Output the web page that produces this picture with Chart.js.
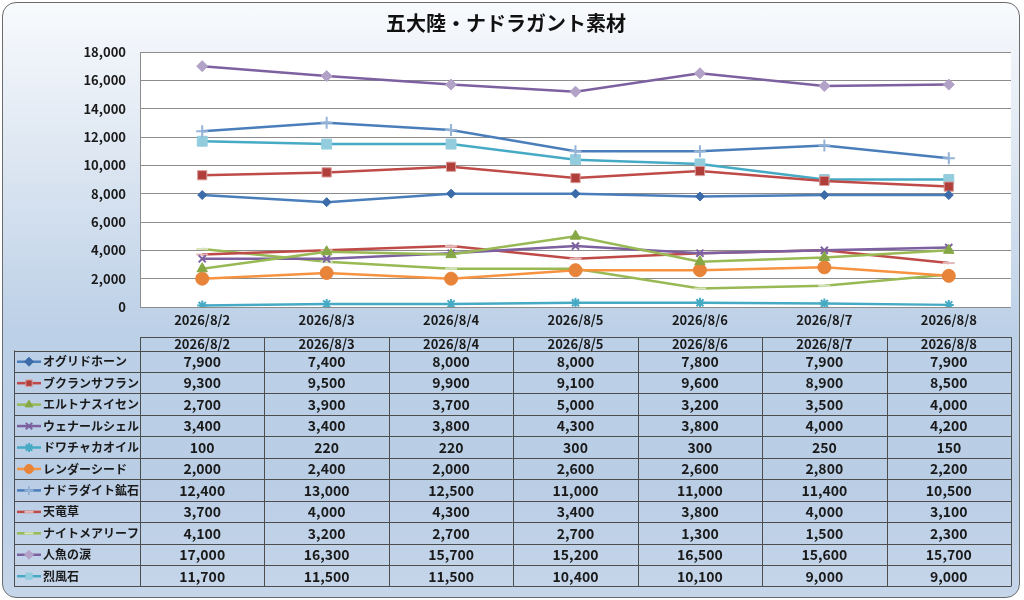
<!DOCTYPE html>
<html>
<head>
<meta charset="utf-8">
<script src="https://cdn.jsdelivr.net/npm/chart.js@4"></script>
<style>
  html, body { margin: 0; padding: 0; background: #ffffff; }
  #wrap {
    position: absolute; left: 2px; top: 2px; width: 1016px; height: 594px;
    border: 1.5px solid #6b6b6b; border-radius: 14px; overflow: hidden;
    background: linear-gradient(to bottom, #f8fafd 0%, #dbe5f1 28%, #bcd0e7 55%, #b9cde5 80%, #c6d6ea 100%);
  }
  #box { position: absolute; left: -2px; top: -2px; width: 1024px; height: 600px; }
</style>
</head>
<body>
<div id="wrap"><div id="box"><canvas id="chart"></canvas></div></div>
<script>
// data
const dates = ['2026/8/2', '2026/8/3', '2026/8/4', '2026/8/5', '2026/8/6', '2026/8/7', '2026/8/8'];
const oguridoHorn  = [7900, 7400, 8000, 8000, 7800, 7900, 7900];
const bukuranSaffron = [9300, 9500, 9900, 9100, 9600, 8900, 8500];
const eltonaSuisen = [2700, 3900, 3700, 5000, 3200, 3500, 4000];
const wenaarShell  = [3400, 3400, 3800, 4300, 3800, 4000, 4200];
const dwachakaOil  = [100, 220, 220, 300, 300, 250, 150];
const renderSeed   = [2000, 2400, 2000, 2600, 2600, 2800, 2200];
const nadoradite   = [12400, 13000, 12500, 11000, 11000, 11400, 10500];
const tenryuSou    = [3700, 4000, 4300, 3400, 3800, 4000, 3100];
const nightmareLeaf = [4100, 3200, 2700, 2700, 1300, 1500, 2300];
const ningyoNamida = [17000, 16300, 15700, 15200, 16500, 15600, 15700];
const reppuSeki    = [11700, 11500, 11500, 10400, 10100, 9000, 9000];

const FONT = "'Noto Sans CJK JP', 'Noto Sans', sans-serif";

function series(label, data, color, style, radius, fill, border) {
    return {
        label: label,
        data: data,
        borderColor: color,
        backgroundColor: color,
        borderWidth: 2.5,
        pointStyle: style,
        pointRadius: radius,
        pointBackgroundColor: fill,
        pointBorderColor: border || fill,
        pointBorderWidth: 1,
        tension: 0
    };
}

const datasets = [
    series('オグリドホーン', oguridoHorn, '#4a7ebb', 'rectRot', 4.5, '#3b6ba8'),
    series('ブクランサフラン', bukuranSaffron, '#be4b48', 'rect', 6.5, '#b03e3b', '#d99a98'),
    series('エルトナスイセン', eltonaSuisen, '#98b954', 'triangle', 6, '#86a745'),
    series('ウェナールシェル', wenaarShell, '#7d60a0', 'crossRot', 5, '#7d60a0'),
    series('ドワチャカオイル', dwachakaOil, '#46aac5', 'star', 5, '#46aac5'),
    series('レンダーシード', renderSeed, '#f69240', 'circle', 6.5, '#e8843a'),
    series('ナドラダイト鉱石', nadoradite, '#4a7ebb', 'cross', 6, '#95b3d7'),
    series('天竜草', tenryuSou, '#be4b48', 'line', 6, '#e6b9b8'),
    series('ナイトメアリーフ', nightmareLeaf, '#98b954', 'line', 6, '#d7e4bd'),
    series('人魚の涙', ningyoNamida, '#7d60a0', 'rectRot', 5.5, '#b3a2c7'),
    series('烈風石', reppuSeki, '#46aac5', 'rect', 7, '#93cddd')
];
// thicker marker strokes for the line-type markers
datasets.forEach(d => {
    if (['crossRot', 'star', 'cross', 'line'].includes(d.pointStyle)) d.pointBorderWidth = 2;
});

// white plot area behind the lines
const plotBg = {
    id: 'plotBg',
    beforeDraw(chart) {
        const a = chart.chartArea, ctx = chart.ctx;
        ctx.save();
        ctx.fillStyle = '#ffffff';
        ctx.fillRect(a.left, a.top, a.right - a.left, a.bottom - a.top);
        ctx.restore();
    }
};

// data table under the chart, columns follow the x scale
const dataTable = {
    id: 'dataTable',
    afterDraw(chart) {
        const ctx = chart.ctx, x = chart.scales.x;
        const step = x.getPixelForValue(1) - x.getPixelForValue(0);
        const left = x.getPixelForValue(0) - step / 2;
        const right = x.getPixelForValue(dates.length - 1) + step / 2;
        const legendLeft = 13;
        const headTop = 336, headH = 13.5, rowH = 21.45;
        const bodyTop = headTop + headH;
        const bottom = bodyTop + rowH * datasets.length;

        ctx.save();
        ctx.strokeStyle = '#4d4d4d';
        ctx.lineWidth = 1;
        ctx.beginPath();
        // header row
        ctx.moveTo(left, headTop + 0.5); ctx.lineTo(right, headTop + 0.5);
        // body rows
        for (let r = 0; r <= datasets.length; r++) {
            const y = Math.round(bodyTop + r * rowH) + 0.5;
            ctx.moveTo(legendLeft, y); ctx.lineTo(right, y);
        }
        ctx.moveTo(legendLeft + 0.5, bodyTop); ctx.lineTo(legendLeft + 0.5, bottom);
        for (let c = 0; c <= dates.length; c++) {
            const xx = Math.round(left + c * step) + 0.5;
            ctx.moveTo(xx, headTop); ctx.lineTo(xx, bottom);
        }
        ctx.stroke();

        ctx.fillStyle = '#1a1a1a';
        ctx.textAlign = 'center';
        ctx.textBaseline = 'middle';
        ctx.font = 'bold 13px ' + FONT;
        dates.forEach((d, i) => ctx.fillText(d, x.getPixelForValue(i), headTop + headH / 2 + 0.5));

        datasets.forEach((ds, r) => {
            const cy = bodyTop + r * rowH + rowH / 2 + 0.5;
            // legend key: line plus marker
            ctx.strokeStyle = ds.borderColor;
            ctx.lineWidth = 2.5;
            ctx.beginPath();
            ctx.moveTo(legendLeft + 3, cy); ctx.lineTo(legendLeft + 27, cy);
            ctx.stroke();
            ctx.fillStyle = ds.pointBackgroundColor;
            ctx.strokeStyle = ds.pointBorderColor;
            ctx.lineWidth = ds.pointBorderWidth;
            Chart.helpers.drawPoint(ctx, {
                pointStyle: ds.pointStyle,
                radius: Math.min(ds.pointRadius, 4.5),
                rotation: 0,
                borderWidth: ds.pointBorderWidth
            }, legendLeft + 15, cy);
            ctx.fillStyle = '#1a1a1a';
            ctx.textAlign = 'left';
            ctx.font = 'bold 12px ' + FONT;
            ctx.fillText(ds.label, legendLeft + 29, cy);
            ctx.textAlign = 'center';
            ctx.font = 'bold 14px ' + FONT;
            ds.data.forEach((v, i) => ctx.fillText(v.toLocaleString('en-US'), x.getPixelForValue(i), cy));
        });
        ctx.restore();
    }
};

new Chart(document.getElementById('chart').getContext('2d'), {
    type: 'line',
    data: { labels: dates, datasets: datasets },
    options: {
        responsive: true,
        maintainAspectRatio: false,
        animation: false,
        layout: { padding: { left: 0, right: 14, top: 0, bottom: 274 } },
        plugins: {
            legend: { display: false },
            tooltip: { enabled: false },
            title: {
                display: true,
                text: '五大陸・ナドラガント素材',
                color: '#111111',
                font: { family: FONT, size: 20, weight: 'bold', lineHeight: 1.2 },
                padding: { top: 10, bottom: 17 }
            }
        },
        scales: {
            x: {
                offset: true,
                afterFit(s) { s.height = 20; },
                grid: { display: false, drawTicks: false, offset: true },
                border: { display: false },
                ticks: { color: '#1a1a1a', padding: 5, maxRotation: 0, font: { family: FONT, size: 13, weight: 'bold' } }
            },
            y: {
                min: 0,
                max: 18000,
                afterFit(s) { s.width = 139; },
                grid: { color: '#8c8c8c', lineWidth: 1, drawTicks: false },
                border: { display: true, color: '#8c8c8c', width: 1 },
                ticks: {
                    stepSize: 2000,
                    padding: 14,
                    color: '#1a1a1a',
                    font: { family: FONT, size: 13, weight: 'bold' },
                    callback: v => v.toLocaleString('en-US')
                }
            }
        }
    },
    plugins: [plotBg, dataTable]
});
</script>
</body>
</html>
